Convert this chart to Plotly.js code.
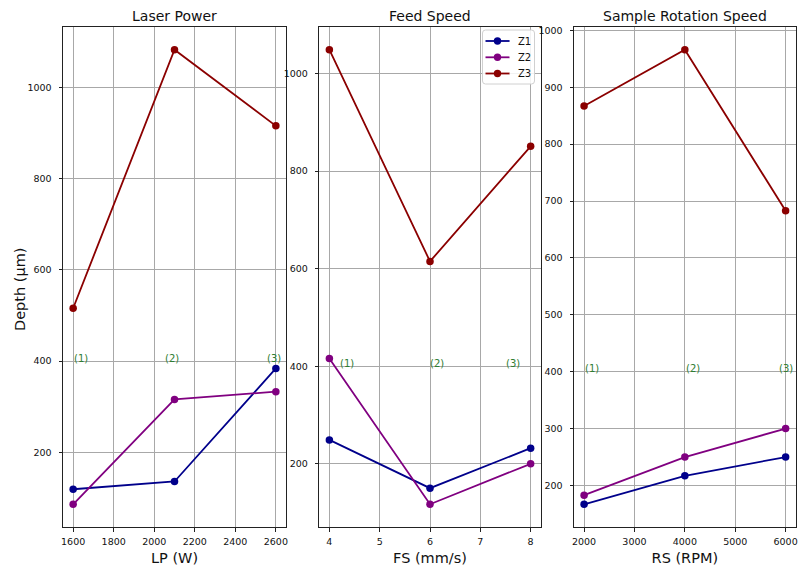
<!DOCTYPE html>
<html>
<head>
<meta charset="utf-8">
<script src="https://cdn.plot.ly/plotly-3.0.1.min.js"></script>
<style>html,body{margin:0;padding:0;background:#fff;} #chart{width:801px;height:571px;}</style>
</head>
<body>
<div id="chart"></div>
<script>
// ---- data ----
const lpLevels = [1600, 2100, 2600];
const lpZ1 = [119, 136, 384];
const lpZ2 = [86, 316, 333];
const lpZ3 = [516, 1083, 916];

const fsLevels = [4, 6, 8];
const fsZ1 = [249, 150, 232];
const fsZ2 = [416, 117, 200];
const fsZ3 = [1049, 615, 851];

const rsLevels = [2000, 4000, 6000];
const rsZ1 = [167, 217, 250];
const rsZ2 = [183, 250, 300];
const rsZ3 = [867, 966, 683];

const levelLabels = ["(1)", "(2)", "(3)"];
const lpLabelX = [1600, 2048, 2551];
const fsLabelX = [4.19, 5.98, 7.5];
const rsLabelX = [2000, 4000, 5850];
const labelY = 400;

const seriesNames = ["Z1", "Z2", "Z3"];
const seriesColors = ["#00008b", "#800080", "#8b0000"];
const panelTitles = ["Laser Power", "Feed Speed", "Sample Rotation Speed"];
const xTitles = ["LP (W)", "FS (mm/s)", "RS (RPM)"];
const yTitle = "Depth (µm)";

// ---- build ----
const W = 801, H = 571;
const FONT = "DejaVu Sans, sans-serif";
const px = v => v / W, py = v => 1 - v / H;
const panels = [
  {x: lpLevels, ys: [lpZ1, lpZ2, lpZ3], lx: lpLabelX},
  {x: fsLevels, ys: [fsZ1, fsZ2, fsZ3], lx: fsLabelX},
  {x: rsLevels, ys: [rsZ1, rsZ2, rsZ3], lx: rsLabelX}
];
function pad(arr){const mn=Math.min(...arr), mx=Math.max(...arr), d=(mx-mn)*0.05; return [mn-d, mx+d];}

const traces = [];
const annotations = [];
const shapes = [];
panels.forEach((p, i) => {
  const ax = i === 0 ? "" : String(i + 1);
  p.ys.forEach((y, k) => {
    traces.push({
      x: p.x, y: y, type: "scatter", mode: "lines+markers",
      name: seriesNames[k], showlegend: false,
      xaxis: "x" + ax, yaxis: "y" + ax,
      line: {color: seriesColors[k], width: 1.8},
      marker: {color: seriesColors[k], size: 7.5}
    });
  });
  levelLabels.forEach((t, k) => {
    annotations.push({
      xref: "x" + ax, yref: "y" + ax, x: p.lx[k], y: labelY,
      text: t, showarrow: false, xanchor: "left", yanchor: "middle", yshift: 3, xshift: -1,
      font: {family: FONT, size: 10, color: "#2e7d32"}
    });
  });
  annotations.push({
    xref: "x" + ax + " domain", yref: "paper", x: 0.5, y: py(16),
    text: panelTitles[i], showarrow: false, xanchor: "center", yanchor: "middle",
    font: {family: FONT, size: 14, color: "#111"}
  });
});

// y-axis title (panel 1)
annotations.push({
  xref: "paper", yref: "paper", x: px(20), y: py(290), textangle: -90,
  text: yTitle, showarrow: false, xanchor: "center", yanchor: "middle",
  font: {family: FONT, size: 14.5, color: "#111"}
});

// custom legend (matplotlib style) in panel 2
const L = {x0: 482.5, x1: 534.5, y0: 30, y1: 84, r: 3};
shapes.push({
  type: "path", xref: "paper", yref: "paper",
  path: `M ${px(L.x0+L.r)} ${py(L.y0)} L ${px(L.x1-L.r)} ${py(L.y0)} Q ${px(L.x1)} ${py(L.y0)} ${px(L.x1)} ${py(L.y0+L.r)} ` +
        `L ${px(L.x1)} ${py(L.y1-L.r)} Q ${px(L.x1)} ${py(L.y1)} ${px(L.x1-L.r)} ${py(L.y1)} ` +
        `L ${px(L.x0+L.r)} ${py(L.y1)} Q ${px(L.x0)} ${py(L.y1)} ${px(L.x0)} ${py(L.y1-L.r)} ` +
        `L ${px(L.x0)} ${py(L.y0+L.r)} Q ${px(L.x0)} ${py(L.y0)} ${px(L.x0+L.r)} ${py(L.y0)} Z`,
  line: {color: "#d0d0d0", width: 1}, fillcolor: "rgba(255,255,255,0.85)", layer: "above"
});
const legRows = [41, 57.3, 73.5];
seriesNames.forEach((n, k) => {
  const yy = legRows[k];
  shapes.push({type: "line", xref: "paper", yref: "paper", x0: px(485.5), x1: px(509.5), y0: py(yy), y1: py(yy),
    line: {color: seriesColors[k], width: 1.8}, layer: "above"});
  shapes.push({type: "circle", xref: "paper", yref: "paper", x0: px(497.5-3.7), x1: px(497.5+3.7), y0: py(yy-3.7), y1: py(yy+3.7),
    line: {color: seriesColors[k], width: 0}, fillcolor: seriesColors[k], layer: "above"});
  annotations.push({xref: "paper", yref: "paper", x: px(515.5), y: py(yy), text: n, showarrow: false,
    xanchor: "left", yanchor: "middle", font: {family: FONT, size: 10, color: "#111"}});
});

const xd = [[63/W, 286/W], [319.3/W, 540.7/W], [574/W, 795.7/W]];
const yd = [1 - 527/H, 1 - 27/H];
const xDt = [200, 1, 1000];
const yDt = [200, 200, 100];

const layout = {
  width: W, height: H,
  margin: {l: 0, r: 0, t: 0, b: 0},
  paper_bgcolor: "#fff", plot_bgcolor: "#fff",
  font: {family: FONT, size: 9.5, color: "#111"},
  annotations: annotations, shapes: shapes, showlegend: false
};
panels.forEach((p, i) => {
  const ax = i === 0 ? "" : String(i + 1);
  const allY = [].concat(...p.ys);
  layout["xaxis" + ax] = {
    domain: xd[i], anchor: "y" + ax, range: pad(p.x), dtick: xDt[i], tick0: 0,
    showgrid: true, gridcolor: "#a8a8a8", gridwidth: 1,
    showline: true, linecolor: "#222", linewidth: 1, mirror: true,
    ticks: "outside", ticklen: 3.5, tickcolor: "#222", zeroline: false,
    ticklabelstandoff: 2,
    tickfont: {family: FONT, size: 9.5, color: "#111"},
    title: {text: xTitles[i], font: {family: FONT, size: 14.5, color: "#111"}, standoff: 6}
  };
  layout["yaxis" + ax] = {
    domain: yd, anchor: "x" + ax, range: pad(allY), dtick: yDt[i], tick0: 0,
    showgrid: true, gridcolor: "#a8a8a8", gridwidth: 1,
    showline: true, linecolor: "#222", linewidth: 1, mirror: true,
    ticks: "outside", ticklen: 3.5, tickcolor: "#222", zeroline: false,
    ticklabelstandoff: 5,
    tickfont: {family: FONT, size: 9.5, color: "#111"},
    title: {text: ""}
  };
});

Plotly.newPlot("chart", traces, layout, {displayModeBar: false, staticPlot: true});
</script>
</body>
</html>
